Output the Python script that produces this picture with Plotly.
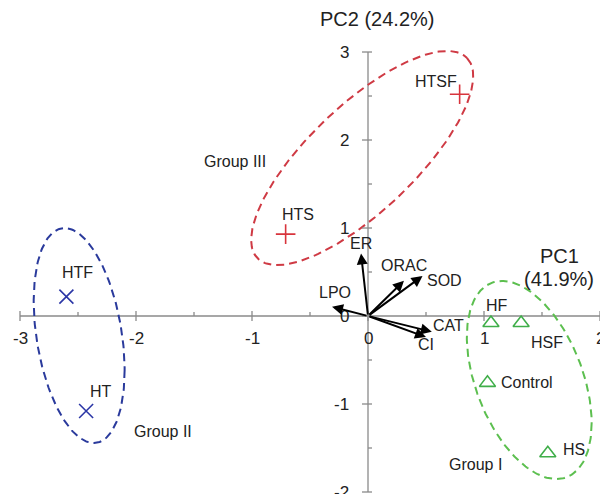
import numpy as np
import plotly.graph_objects as go

# ---- sample scores on the first two principal components ----
samples = ["HTSF", "HTS", "HTF", "HT", "HF", "HSF", "Control", "HS"]
pc1 = [0.79, -0.71, -2.60, -2.43, 1.06, 1.32, 1.03, 1.55]
pc2 = [2.52, 0.93, 0.22, -1.08, -0.08, -0.08, -0.76, -1.56]
groups = ["III", "III", "II", "II", "I", "I", "I", "I"]

# ---- variable loadings (biplot arrows) ----
variables = ["ER", "ORAC", "SOD", "LPO", "CAT", "CI"]
load_pc1 = [-0.06, 0.31, 0.47, -0.31, 0.55, 0.50]
load_pc2 = [0.71, 0.40, 0.455, 0.105, -0.18, -0.24]

# ---- axis ticks ----
x_ticks = [-3, -2, -1, 0, 1, 2]
y_ticks = [3, 2, 1, 0, -1, -2]
x_minor = [-2.5, -1.5, -0.5, 0.5, 1.5]
y_minor = [2.5, 1.5, 0.5, -0.5, -1.5]

# ---- group ellipses: centre plus two conjugate semi-diameters ----
ellipses = {
    "III": dict(c=(-0.05, 1.795), u=(0.904, 1.136), v=(0.315, -0.436)),
    "II": dict(c=(-2.49, -0.222), u=(0.392, -0.391), v=(0.0, -1.157)),
    "I": dict(c=(1.39, -0.727), u=(0.538, -0.489), v=(0.0, -1.014)),
}
group_titles = {"III": "Group III", "II": "Group II", "I": "Group I"}
group_title_pos = {"III": (-1.15, 1.76), "II": (-1.77, -1.31), "I": (0.93, -1.69)}

styles = {
    "III": dict(marker="cross-thin", mcolor="#d8343c", ecolor="#cf3a44"),
    "II": dict(marker="x-thin", mcolor="#2b36a6", ecolor="#2a3a9c"),
    "I": dict(marker="triangle-up-open", mcolor="#3fae49", ecolor="#5cbf4f"),
}

# label offsets (pixels, right / up) relative to each marker or arrow tip
sample_label_shift = {
    "HTSF": (-24, 13), "HTS": (12, 20), "HTF": (11, 24), "HT": (15, 20),
    "HF": (6, 18), "HSF": (26, -19), "Control": (40, 0), "HS": (26, 4),
}
var_label_shift = {
    "ER": (0, 10), "ORAC": (0, 15), "SOD": (22, -5), "LPO": (3, 14),
    "CAT": (17, 6), "CI": (0, -7),
}

FONT = "Liberation Sans, Arial, sans-serif"
TXT = "#222222"
AXIS = "#8a8a8a"

fig = go.Figure()

# axis lines through the origin
fig.add_trace(go.Scatter(x=[x_ticks[0], x_ticks[-1]], y=[0, 0], mode="lines",
                         line=dict(color=AXIS, width=1.3), hoverinfo="skip"))
fig.add_trace(go.Scatter(x=[0, 0], y=[y_ticks[-1], y_ticks[0]], mode="lines",
                         line=dict(color=AXIS, width=1.3), hoverinfo="skip"))

# tick marks
for v in x_ticks:
    fig.add_shape(type="line", xref="x", yref="y", x0=v, x1=v, ysizemode="pixel",
                  yanchor=0, y0=-5, y1=5, line=dict(color=AXIS, width=1.3))
for v in x_minor:
    fig.add_shape(type="line", xref="x", yref="y", x0=v, x1=v, ysizemode="pixel",
                  yanchor=0, y0=0, y1=4, line=dict(color=AXIS, width=1.3))
for v in y_ticks:
    fig.add_shape(type="line", xref="x", yref="y", y0=v, y1=v, xsizemode="pixel",
                  xanchor=0, x0=-6, x1=4, line=dict(color=AXIS, width=1.3))
for v in y_minor:
    fig.add_shape(type="line", xref="x", yref="y", y0=v, y1=v, xsizemode="pixel",
                  xanchor=0, x0=0, x1=4, line=dict(color=AXIS, width=1.3))

# tick labels
for v in x_ticks:
    fig.add_annotation(x=v, y=0, text=str(v), showarrow=False, yshift=-22,
                       xanchor="center", yanchor="middle",
                       font=dict(family=FONT, size=17, color=TXT))
for v in y_ticks:
    fig.add_annotation(x=0, y=v, text=str(v), showarrow=False, xshift=-17,
                       xanchor="right", yanchor="middle",
                       font=dict(family=FONT, size=17, color=TXT))

# group ellipses
t = np.linspace(0, 2 * np.pi, 240)
for g, e in ellipses.items():
    ex = e["c"][0] + e["u"][0] * np.cos(t) + e["v"][0] * np.sin(t)
    ey = e["c"][1] + e["u"][1] * np.cos(t) + e["v"][1] * np.sin(t)
    fig.add_trace(go.Scatter(x=ex, y=ey, mode="lines", hoverinfo="skip",
                             line=dict(color=styles[g]["ecolor"], width=2,
                                       dash="8px,5px")))

# sample points
for g in ["III", "II", "I"]:
    idx = [i for i, gg in enumerate(groups) if gg == g]
    fig.add_trace(go.Scatter(
        x=[pc1[i] for i in idx], y=[pc2[i] for i in idx], mode="markers",
        marker=dict(symbol=styles[g]["marker"], size=14, color=styles[g]["mcolor"],
                    line=dict(color=styles[g]["mcolor"], width=1.6)),
        text=[samples[i] for i in idx], hoverinfo="text"))

for s, x, y in zip(samples, pc1, pc2):
    dx, dy = sample_label_shift[s]
    fig.add_annotation(x=x, y=y, text=s, showarrow=False, xshift=dx, yshift=dy,
                       xanchor="center", yanchor="middle",
                       font=dict(family=FONT, size=16, color=TXT))

# loading arrows
for name, lx, ly in zip(variables, load_pc1, load_pc2):
    fig.add_annotation(x=lx, y=ly, ax=0, ay=0, xref="x", yref="y",
                       axref="x", ayref="y", text="", showarrow=True,
                       arrowhead=2, arrowsize=1.1, arrowwidth=2, arrowcolor="#000000")
    dx, dy = var_label_shift[name]
    fig.add_annotation(x=lx, y=ly, text=name, showarrow=False, xshift=dx, yshift=dy,
                       xanchor="center", yanchor="middle",
                       font=dict(family=FONT, size=16, color=TXT))

# group titles
for g, (gx, gy) in group_title_pos.items():
    fig.add_annotation(x=gx, y=gy, text=group_titles[g], showarrow=False,
                       xanchor="center", yanchor="middle",
                       font=dict(family=FONT, size=16, color=TXT))

# component titles
fig.add_annotation(x=0.08, y=3.375, text="PC2 (24.2%)", showarrow=False,
                   xanchor="center", yanchor="middle",
                   font=dict(family=FONT, size=20, color=TXT))
fig.add_annotation(x=1.65, y=0.68, text="PC1", showarrow=False,
                   xanchor="center", yanchor="middle",
                   font=dict(family=FONT, size=20, color=TXT))
fig.add_annotation(x=1.65, y=0.42, text="(41.9%)", showarrow=False,
                   xanchor="center", yanchor="middle",
                   font=dict(family=FONT, size=20, color=TXT))

fig.update_layout(
    width=600, height=494, margin=dict(l=0, r=0, t=0, b=0),
    paper_bgcolor="white", plot_bgcolor="white", showlegend=False,
    xaxis=dict(range=[-3.1724, 2.0], visible=False, fixedrange=True),
    yaxis=dict(range=[-2.0227, 3.591], visible=False, fixedrange=True),
)

fig.write_html("out.html")
